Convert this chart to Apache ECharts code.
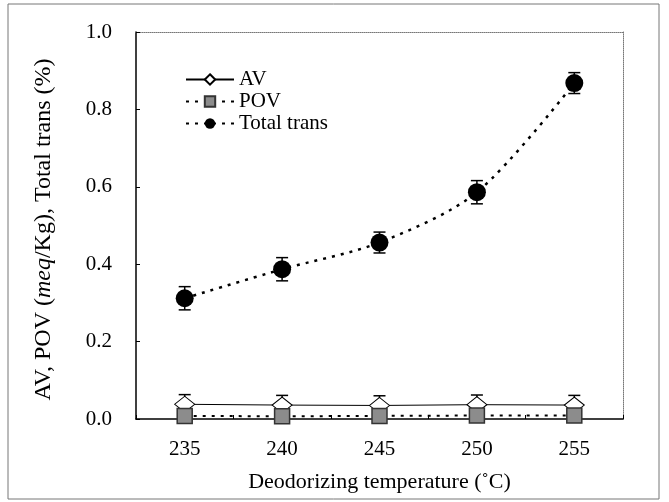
<!DOCTYPE html>
<html>
<head>
<meta charset="utf-8">
<script src="https://cdn.jsdelivr.net/npm/echarts@6/dist/echarts.min.js"></script>
<style>
  html, body { margin: 0; padding: 0; background: #fff; }
  #chart { width: 669px; height: 502px; }
</style>
</head>
<body>
<div id="chart"></div>
<script>
var temps = ["235", "240", "245", "250", "255"];
var av = [0.038, 0.036, 0.035, 0.037, 0.036];
var avErr = [0.025, 0.025, 0.025, 0.025, 0.025];
var pov = [0.008, 0.007, 0.008, 0.009, 0.009];
var trans = [0.312, 0.387, 0.456, 0.586, 0.868];
var transErr = [0.03, 0.03, 0.027, 0.03, 0.027];
var yTicks = [0, 0.2, 0.4, 0.6, 0.8, 1.0];

var serif = "Liberation Serif";

function errData(vals, errs) {
  var out = [];
  for (var i = 0; i < vals.length; i++) {
    out.push([i, vals[i] - errs[i], vals[i] + errs[i]]);
  }
  return out;
}

function errorBars(params, api) {
  var lo = api.coord([api.value(0), api.value(1)]);
  var hi = api.coord([api.value(0), api.value(2)]);
  var w = 6;
  var st = { stroke: "#000", lineWidth: 1.5 };
  return {
    type: "group",
    children: [
      { type: "line", shape: { x1: lo[0], y1: lo[1], x2: hi[0], y2: hi[1] }, style: st },
      { type: "line", shape: { x1: lo[0] - w, y1: lo[1], x2: lo[0] + w, y2: lo[1] }, style: st },
      { type: "line", shape: { x1: hi[0] - w, y1: hi[1], x2: hi[0] + w, y2: hi[1] }, style: st }
    ]
  };
}

var chart = echarts.init(document.getElementById("chart"));
chart.setOption({
  animation: false,
  backgroundColor: "#fff",
  textStyle: { fontFamily: serif, color: "#000" },
  graphic: [
    {
      type: "rect",
      shape: { x: 8, y: 4, width: 651, height: 495 },
      style: { fill: "none", stroke: "#777", lineWidth: 1 },
      silent: true
    }
  ],
  grid: { left: 136, right: 46, top: 32, bottom: 83 },
  legend: {
    data: ["AV", "POV", "Total trans"],
    orient: "vertical",
    left: 180,
    top: 64,
    itemWidth: 48,
    itemHeight: 13,
    itemGap: 1,
    textStyle: { fontFamily: serif, fontSize: 21, color: "#000" }
  },
  xAxis: [
    {
      type: "category",
      data: temps,
      boundaryGap: true,
      name: "Deodorizing temperature (˚C)",
      nameLocation: "middle",
      nameGap: 52,
      nameTextStyle: { fontFamily: serif, fontSize: 22, color: "#000" },
      axisLine: { lineStyle: { color: "#000", width: 1.5 } },
      axisTick: { show: true, inside: true, length: 4, lineStyle: { color: "#000" } },
      axisLabel: { fontFamily: serif, fontSize: 21, color: "#000", margin: 20 },
      splitLine: { show: false }
    },
    {
      type: "category",
      data: temps,
      position: "top",
      axisLine: { onZero: false, lineStyle: { color: "#777", type: "dotted", width: 1 } },
      axisTick: { show: false },
      axisLabel: { show: false }
    }
  ],
  yAxis: [
    {
      type: "value",
      min: 0,
      max: 1,
      interval: 0.2,
      name: "AV, POV ({i|meq}/Kg), Total trans (%)",
      nameLocation: "middle",
      nameGap: 80,
      nameTextStyle: {
        fontFamily: serif,
        fontSize: 24,
        color: "#000",
        padding: [0, 8, 0, 0],
        rich: { i: { fontFamily: serif, fontSize: 24, fontStyle: "italic", color: "#000" } }
      },
      axisLine: { show: true, lineStyle: { color: "#000", width: 1.5 } },
      axisTick: { show: true, inside: true, length: 4, lineStyle: { color: "#000" } },
      axisLabel: {
        fontFamily: serif,
        fontSize: 21,
        color: "#000",
        margin: 24,
        formatter: function (v) { return v.toFixed(1); }
      },
      splitLine: { show: false }
    },
    {
      type: "value",
      min: 0,
      max: 1,
      interval: 0.2,
      position: "right",
      axisLine: { show: true, onZero: false, lineStyle: { color: "#777", type: "dotted", width: 1 } },
      axisTick: { show: false },
      axisLabel: { show: false },
      splitLine: { show: false }
    }
  ],
  series: [
    {
      type: "custom",
      name: "avErr",
      renderItem: errorBars,
      data: errData(av, avErr),
      z: 1
    },
    {
      type: "custom",
      name: "transErr",
      renderItem: errorBars,
      data: errData(trans, transErr),
      z: 1
    },
    {
      name: "AV",
      type: "line",
      data: av,
      symbol: "diamond",
      symbolSize: [20, 16],
      lineStyle: { color: "#000", width: 1, type: "solid" },
      itemStyle: { color: "#fff", borderColor: "#000", borderWidth: 1 },
      z: 3
    },
    {
      name: "POV",
      type: "line",
      data: pov,
      symbol: "rect",
      symbolSize: 15,
      lineStyle: { color: "#000", width: 2, type: [3, 6] },
      itemStyle: { color: "#8c8c8c", borderColor: "#333", borderWidth: 1.5 },
      z: 4
    },
    {
      name: "Total trans",
      type: "line",
      data: trans,
      smooth: 0.3,
      symbol: "circle",
      symbolSize: 18,
      lineStyle: { color: "#000", width: 2.5, type: [3, 6] },
      itemStyle: { color: "#000" },
      z: 3
    }
  ]
});
</script>
</body>
</html>
